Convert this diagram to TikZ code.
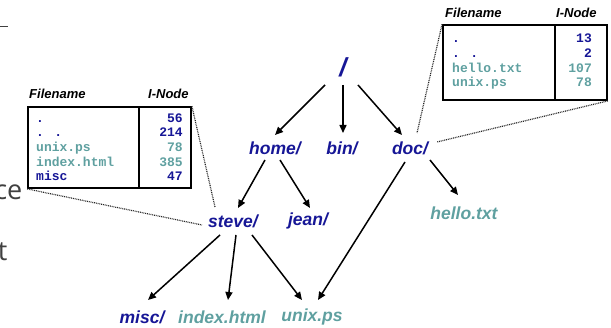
\documentclass[tikz,border=0pt]{standalone}
\usepackage{fontspec}
\setmainfont{Liberation Sans}
\newfontfamily\monofam{Liberation Mono}
\newfontfamily\slidefam{Open Sans}
\usetikzlibrary{arrows.meta,calc}
\definecolor{navyc}{RGB}{22,22,150}
\definecolor{tealc}{RGB}{95,160,160}
\definecolor{slidegray}{RGB}{64,64,64}
\begin{document}
\begin{tikzpicture}[x=1pt,y=-1pt,
  dirl/.style={text=navyc,font=\fontsize{17.5}{20}\selectfont\bfseries\itshape,inner sep=0pt},
  filel/.style={text=tealc,font=\fontsize{17.5}{20}\selectfont\bfseries\itshape,inner sep=0pt},
  treearrow/.style={line width=1.5pt,-{Triangle[length=8pt,width=7pt]}},
  dotline/.style={line width=1.2pt,dash pattern=on 0.9pt off 0.9pt,draw=black!85},
  tabbox/.style={draw,line width=1.8pt,inner sep=0pt},
  divider/.style={line width=1.4pt},
  hdr/.style={font=\fontsize{13}{15}\selectfont\bfseries\itshape,inner sep=0pt,anchor=base west},
  monon/.style={font=\monofam\fontsize{13}{15}\selectfont\bfseries,inner sep=0pt,anchor=base west},
  monov/.style={font=\monofam\fontsize{13}{15}\selectfont\bfseries,inner sep=0pt,anchor=base east},
  slidetxt/.style={text=slidegray,font=\slidefam\fontsize{27}{30}\selectfont,inner sep=0pt,anchor=base east},
]
\useasboundingbox (0,0) rectangle (611,328);

% slide fragments at left edge
\draw[line width=1.5pt,slidegray] (0,26.5) coordinate (dashA) -- (8,26.5) coordinate (dashB);
\node[slidetxt] (frag1) at (22.5,200) {ce};
\node[slidetxt] (frag2) at (7.5,261) {t};

% tree nodes
\node[dirl,font=\fontsize{26}{28}\selectfont\bfseries\itshape] (root) at (343,67) {/};
\node[dirl] (home) at (275,148) {home/};
\node[dirl] (bin) at (342,148) {bin/};
\node[dirl] (doc) at (410,148) {doc/};
\node[dirl] (steve) at (233,221) {steve/};
\node[dirl] (jean) at (308,221) {jean/};
\node[filel] (hello) at (464,213) {hello.txt};
\node[dirl] (misc) at (142,317) {misc/};
\node[filel] (index) at (222,317) {index.html};
\node[filel] (unix) at (312,317) {unix.ps};

% tree arrows
\draw[treearrow] ($(root)+(-18,18)$) -- ($(home)+(0,-13)$);
\draw[treearrow] ($(root)+(0,18)$) -- ($(bin)+(1,-15)$);
\draw[treearrow] ($(root)+(15,18)$) -- ($(doc)+(-8,-13)$);
\draw[treearrow] ($(home)+(-10,12)$) -- ($(steve)+(5,-13)$);
\draw[treearrow] ($(home)+(5,12)$) -- ($(jean)+(2,-13)$);
\draw[treearrow] ($(doc)+(20,12)$) -- ($(hello)+(-6,-18)$);
\draw[treearrow] ($(doc)+(-5,14)$) -- ($(unix)+(6,-17)$);
\draw[treearrow] ($(steve)+(-13,14)$) -- ($(misc)+(6,-17)$);
\draw[treearrow] ($(steve)+(3,14)$) -- ($(index)+(6,-17)$);
\draw[treearrow] ($(steve)+(19,14)$) -- ($(unix)+(-10,-17)$);

% left table (steve/)
\node[tabbox,minimum width=163pt,minimum height=81pt] (ltab) at (109.5,147.5) {};
\draw[divider] (139,107) coordinate (ldivT) -- (139,188) coordinate (ldivB);
\node[hdr] (lhn) at (29,99) {Filename};
\node[hdr] (lhv) at (148,99) {I-Node};
\node[monon,text=navyc] (l1n) at (36,122.5) {.};
\node[monov,text=navyc] (l1v) at (183,122.5) {56};
\node[monon,text=navyc] (l2n) at (36,137) {. .};
\node[monov,text=navyc] (l2v) at (183,137) {214};
\node[monon,text=tealc] (l3n) at (36,152) {unix.ps};
\node[monov,text=tealc] (l3v) at (183,152) {78};
\node[monon,text=tealc] (l4n) at (36,166.5) {index.html};
\node[monov,text=tealc] (l4v) at (183,166.5) {385};
\node[monon,text=navyc] (l5n) at (36,181) {misc};
\node[monov,text=navyc] (l5v) at (183,181) {47};

% right table (doc/)
\node[tabbox,minimum width=164pt,minimum height=75pt] (rtab) at (525,62.5) {};
\draw[divider] (555,25) coordinate (rdivT) -- (555,100) coordinate (rdivB);
\node[hdr] (rhn) at (445,17.5) {Filename};
\node[hdr] (rhv) at (556,17.5) {I-Node};
\node[monon,text=navyc] (r1n) at (452,43) {.};
\node[monov,text=navyc] (r1v) at (592,43) {13};
\node[monon,text=navyc] (r2n) at (452,57.5) {. .};
\node[monov,text=navyc] (r2v) at (592,57.5) {2};
\node[monon,text=tealc] (r3n) at (452,72.5) {hello.txt};
\node[monov,text=tealc] (r3v) at (592,72.5) {107};
\node[monon,text=tealc] (r4n) at (452,87) {unix.ps};
\node[monov,text=tealc] (r4v) at (592,87) {78};

% dotted leader lines
\draw[dotline] (ltab.north east) -- ($(steve)+(-18,-14)$);
\draw[dotline] (ltab.south west) -- ($(steve)+(-31,4)$);
\draw[dotline] (rtab.north west) -- ($(doc)+(7,-15)$);
\draw[dotline] (rtab.south east) -- ($(doc)+(27,-6)$);
\end{tikzpicture}
\end{document}
